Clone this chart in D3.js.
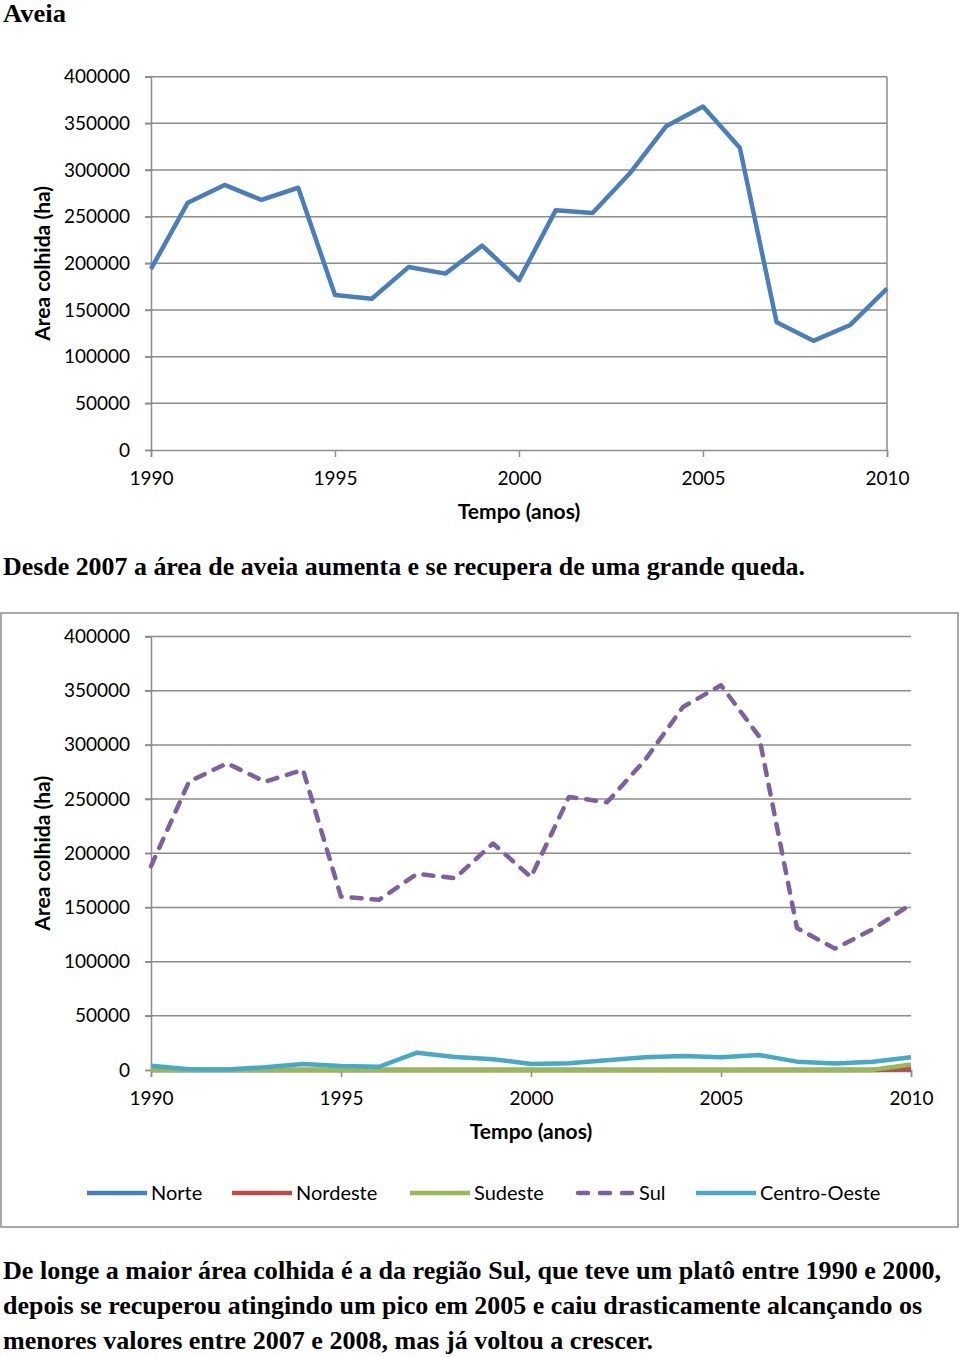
<!DOCTYPE html>
<html><head><meta charset="utf-8">
<script src="https://cdn.jsdelivr.net/npm/d3@7"></script>
<style>
html,body{margin:0;padding:0;background:#fff;}
svg{display:block;}
</style></head>
<body>
<svg id="c" width="960" height="1357"></svg>
<script>
const years = [1990,1991,1992,1993,1994,1995,1996,1997,1998,1999,2000,2001,2002,2003,2004,2005,2006,2007,2008,2009,2010];
const total = [194000,265000,284000,268000,281000,166000,162000,196000,189000,219000,182000,257000,254000,296000,347000,368000,324000,137000,117000,134000,173000];
const norte = [0,0,0,0,0,0,0,0,0,0,0,0,0,0,0,0,0,0,0,0,0];
const nordeste = [0,0,0,0,0,0,0,0,0,0,0,0,0,0,0,0,0,0,0,0,1000];
const sudeste = [0,0,0,0,0,0,0,0,0,0,0,0,0,0,0,0,0,0,0,300,5000];
const sul = [188000,266000,283000,266000,277000,160000,157000,181000,177000,209000,178000,252000,247000,286000,335000,355000,308000,131000,112000,130000,153000];
const centroOeste = [4000,600,500,2500,5500,3700,3000,16000,12000,10000,5500,6200,9000,11700,13000,11700,13800,7700,6000,7700,11700];
const yTicks = [0,50000,100000,150000,200000,250000,300000,350000,400000];
const xTicks = [1990,1995,2000,2005,2010];
const seriesNames = ["Norte","Nordeste","Sudeste","Sul","Centro-Oeste"];
const seriesColors = ["#4A7EBB","#BE4B48","#98B954","#7D60A0","#46AAC5"];

const svg = d3.select("#c");
const grid = "#8c8c8c";
const sansFont = "Lato, 'Open Sans', sans-serif";
const serifFont = "'Liberation Serif', 'Times New Roman', serif";

function textFit(sel, len){ sel.attr("textLength", len).attr("lengthAdjust","spacingAndGlyphs"); }

// Titles / captions
textFit(svg.append("text").attr("x",3).attr("y",22).attr("font-family",serifFont).attr("font-weight","bold").attr("font-size",25).text("Aveia"), 63);
textFit(svg.append("text").attr("x",3).attr("y",575).attr("font-family",serifFont).attr("font-weight","bold").attr("font-size",25).text("Desde 2007 a área de aveia aumenta e se recupera de uma grande queda."), 802);
const para = [
 ["De longe a maior área colhida é a da região Sul, que teve um platô entre 1990 e 2000,",1279,938],
 ["depois se recuperou atingindo um pico em 2005 e caiu drasticamente alcançando os",1314,919],
 ["menores valores entre 2007 e 2008, mas já voltou a crescer.",1349,650]
];
para.forEach(p=>textFit(svg.append("text").attr("x",3).attr("y",p[1]).attr("font-family",serifFont).attr("font-weight","bold").attr("font-size",24.5).text(p[0]), p[2]));

function drawChart(cfg){
  const x = d3.scaleLinear().domain([1990,2010]).range([cfg.x0,cfg.x1]);
  const y = d3.scaleLinear().domain([0,400000]).range([cfg.y0,cfg.y1]);
  const g = svg.append("g");
  // gridlines
  g.selectAll("line.grid").data(yTicks.filter(d=>d>0)).enter().append("line")
    .attr("x1",cfg.x0-6).attr("x2",cfg.x1).attr("y1",d=>y(d)).attr("y2",d=>y(d))
    .attr("stroke",grid).attr("stroke-width",1.5);
  if(cfg.rightBorder){
    g.append("line").attr("x1",cfg.x1).attr("x2",cfg.x1).attr("y1",y(400000)).attr("y2",cfg.y0)
      .attr("stroke",grid).attr("stroke-width",1.5);
  }
  // y axis
  const ya = g.append("g").attr("transform",`translate(${cfg.x0},0)`)
    .call(d3.axisLeft(y).tickValues(yTicks).tickSize(6).tickPadding(15).tickFormat(d3.format("d")));
  ya.select(".domain").attr("stroke",grid).attr("stroke-width",1.5);
  ya.selectAll(".tick line").attr("stroke",grid).attr("stroke-width",1.5);
  ya.selectAll(".tick text").attr("font-family",sansFont).attr("font-size",19).attr("fill","#000");
  // x axis
  const xa = g.append("g").attr("transform",`translate(0,${cfg.y0})`)
    .call(d3.axisBottom(x).tickValues(xTicks).tickSize(7).tickPadding(15).tickFormat(d3.format("d")));
  xa.select(".domain").attr("stroke",grid).attr("stroke-width",1.5);
  xa.selectAll(".tick line").attr("stroke",grid).attr("stroke-width",1.5);
  xa.selectAll(".tick text").attr("font-family",sansFont).attr("font-size",19).attr("fill","#000");
  // axis titles
  g.append("text").attr("x",(cfg.x0+cfg.x1)/2).attr("y",cfg.y0+69).attr("text-anchor","middle")
    .attr("font-family",sansFont).attr("font-weight","bold").attr("font-size",21).text("Tempo (anos)");
  g.append("text").attr("transform",`translate(50,${(cfg.y0+y(400000))/2}) rotate(-90)`).attr("text-anchor","middle")
    .attr("font-family",sansFont).attr("font-weight","bold").attr("font-size",21).text("Area colhida (ha)");
  const line = d3.line().x((d,i)=>x(years[i])).y(d=>y(d));
  cfg.series.forEach(s=>{
    g.append("path").datum(s.values).attr("d",line).attr("fill","none")
      .attr("stroke",s.color).attr("stroke-width",4.5).attr("stroke-linejoin","round")
      .attr("stroke-linecap",s.dash?"round":"butt")
      .attr("stroke-dasharray",s.dash?"10,10":null);
  });
  return {x,y};
}

drawChart({x0:151,x1:887,y0:450,y1:76.7,rightBorder:true,
  series:[{values:total,color:"#4A7EBB"}]});

// bottom chart frame
svg.append("rect").attr("x",1).attr("y",613).attr("width",957).attr("height",614)
  .attr("fill","none").attr("stroke","#8c8c8c").attr("stroke-width",1.5);

const regional = [norte,nordeste,sudeste,sul,centroOeste];
drawChart({x0:151,x1:911,y0:1070,y1:636.5,rightBorder:false,
  series:regional.map((v,i)=>({values:v,color:seriesColors[i],dash:seriesNames[i]==="Sul"}))});

// legend
const legX = [87,232,410,575,696];
const lg = svg.append("g");
seriesNames.forEach((n,i)=>{
  const isDash = n==="Sul";
  lg.append("line").attr("x1",legX[i]+(isDash?3:0)).attr("x2",legX[i]+60-(isDash?3:0)).attr("y1",1193).attr("y2",1193)
    .attr("stroke",seriesColors[i]).attr("stroke-width",4.5)
    .attr("stroke-linecap",isDash?"round":"butt")
    .attr("stroke-dasharray",isDash?"10,12":null);
  lg.append("text").attr("x",legX[i]+64).attr("y",1200).attr("font-family",sansFont).attr("font-size",20).text(n);
});
</script>
</body></html>
